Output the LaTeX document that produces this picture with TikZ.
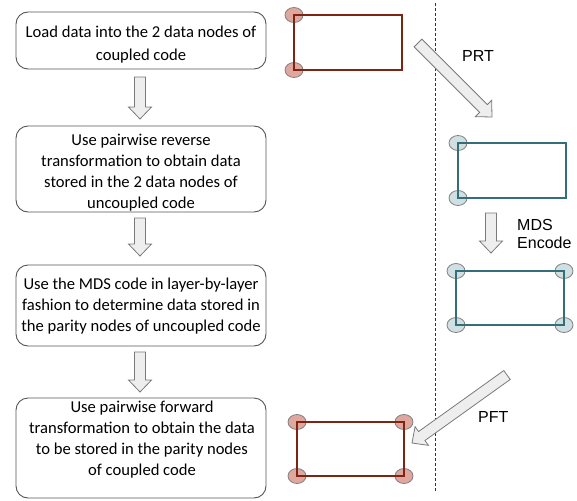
\documentclass[tikz,border=0pt]{standalone}
\usepackage{fontspec}
\setmainfont{Carlito}
\newfontfamily\arialfont{Liberation Sans}
\usetikzlibrary{calc}
\definecolor{boxline}{HTML}{555555}
\definecolor{redline}{HTML}{7F2315}
\definecolor{redfill}{HTML}{DFA79D}
\definecolor{tealline}{HTML}{336F7A}
\definecolor{tealfill}{HTML}{CFDFE2}
\definecolor{circline}{HTML}{808080}
\definecolor{arrfill}{HTML}{EEEEEE}
\definecolor{arrline}{HTML}{7A7A7A}
\newcommand{\bkarrow}[3]{%
  \coordinate (#1s) at #2;
  \coordinate (#1t) at #3;
  \coordinate (#1h) at ($(#1t)!12pt!(#1s)$);
  \draw[blockarr] ($(#1s)!5.5pt!90:(#1t)$) -- ($(#1h)!5.5pt!90:(#1t)$)
    -- ($(#1h)!11.5pt!90:(#1t)$) -- (#1t) -- ($(#1h)!11.5pt!-90:(#1t)$)
    -- ($(#1h)!5.5pt!-90:(#1t)$) -- ($(#1s)!5.5pt!-90:(#1t)$) -- cycle;
}
\begin{document}
\begin{tikzpicture}[x=1pt,y=-1pt,
  stepbox/.style={draw=boxline, line width=0.9pt, rounded corners=12pt,
    minimum width=250pt, inner sep=0pt},
  steptext/.style={align=center, inner sep=0pt,
    font=\fontsize{16.6}{21}\selectfont},
  blockarr/.style={draw=arrline, fill=arrfill, line width=0.8pt, line join=miter},
  redrect/.style={draw=redline, line width=1.4pt},
  tealrect/.style={draw=tealline, line width=1.4pt},
  redcirc/.style={draw=circline, fill=redfill, line width=0.8pt},
  tealcirc/.style={draw=circline, fill=tealfill, line width=0.8pt},
  lbl/.style={font=\arialfont\fontsize{16}{18}\selectfont, inner sep=0pt, anchor=base west},
  divider/.style={draw=black!80, line width=0.8pt, dash pattern=on 3pt off 2pt}
]
\useasboundingbox (0,0) rectangle (577,500);

% left column boxes
\node[stepbox, minimum height=57pt] (b1) at (141,40.5) {};
\node[steptext, font=\fontsize{16.6}{22.5}\selectfont] (t1) at (141,44.5) {Load data into the 2 data nodes of\\coupled code};
\node[stepbox, minimum height=86pt] (b2) at (141,169) {};
\node[steptext] (t2) at (141,172.5) {Use pairwise reverse\\transformation to obtain data\\stored in the 2 data nodes of\\uncoupled code};
\node[stepbox, minimum height=81pt] (b3) at (141,305.5) {};
\node[steptext] (t3) at (141,306.5) {Use the MDS code in layer-by-layer\\fashion to determine data stored in\\the parity nodes of uncoupled code};
\node[stepbox, minimum height=100pt] (b4) at (141,448) {};
\node[steptext] (t4) at (142,439.5) {Use pairwise forward\\transformation to obtain the data\\to be stored in the parity nodes\\of coupled code};

% vertical block arrows between steps
\bkarrow{a1}{(140,77)}{(140,119)}
\bkarrow{a2}{(140,218)}{(140,256)}
\bkarrow{a3}{(140,352)}{(140,392)}

% divider
\coordinate (dtop) at (435,3);
\coordinate (dbot) at (435,492);
\draw[divider] (dtop) -- (dbot);

% coupled code (top)
\foreach \p in {(294,15),(294,70)} \draw[redcirc] \p ellipse [x radius=9pt, y radius=7.5pt];
\draw[redrect] (294,15) rectangle (402,70);

% PRT arrow
\bkarrow{prt}{(418,43)}{(492,117)}
\node[lbl] (prtl) at (462,62) {PRT};

% uncoupled data
\foreach \p in {(458,143),(458,198)} \draw[tealcirc] \p ellipse [x radius=9pt, y radius=7.5pt];
\draw[tealrect] (458,143) rectangle (566,198);

% MDS encode
\bkarrow{mds}{(491,213)}{(491,253)}
\node[lbl] (mdsl) at (517,230) {MDS};
\node[lbl] (encl) at (517,248) {Encode};

% uncoupled full
\foreach \p in {(456,271),(564,271),(456,325),(564,325)} \draw[tealcirc] \p ellipse [x radius=9pt, y radius=7.5pt];
\draw[tealrect] (456,271) rectangle (564,325);

% PFT arrow
\bkarrow{pft}{(507,375)}{(412,443)}
\node[lbl] (pftl) at (478,422) {PFT};

% coupled full
\foreach \p in {(297,422),(404,422),(297,476),(404,476)} \draw[redcirc] \p ellipse [x radius=9pt, y radius=7.5pt];
\draw[redrect] (297,422) rectangle (404,476);
\end{tikzpicture}
\end{document}
